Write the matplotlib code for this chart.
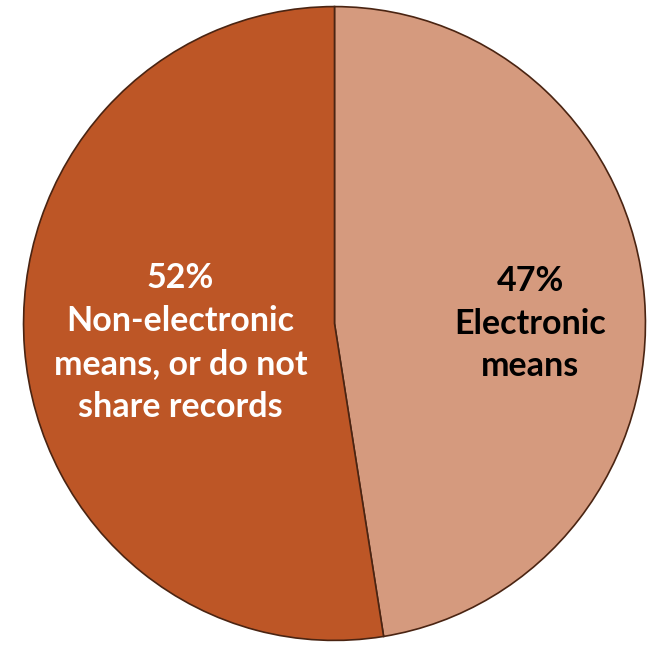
import matplotlib.pyplot as plt

# Data
labels = ['Electronic\nmeans', 'Non-electronic\nmeans, or do not\nshare records']
shares = [47, 52]
colors = ['#D59A7E', '#BD5626']
text_colors = ['black', 'white']

plt.rcParams['font.family'] = ['Lato', 'DejaVu Sans']

fig = plt.figure(figsize=(6.52, 6.47), dpi=100)
ax = fig.add_axes([22 / 652, 5 / 647, 625 / 652, 637 / 647])

wedges, _ = ax.pie(shares, colors=colors, startangle=90, counterclock=False,
                   wedgeprops=dict(edgecolor='#4a2412', linewidth=1.2))

# label positions inside each slice
label_pos = [(0.63, 0.0), (-0.495, -0.06)]
for lab, val, (x, y), tc in zip(labels, shares, label_pos, text_colors):
    ax.text(x, y, f'{val}%\n{lab}', ha='center', va='center', color=tc,
            fontsize=24.5, fontweight='bold', linespacing=1.42)

ax.set_aspect('auto')
ax.set_xlim(-1.005, 1.005)
ax.set_ylim(-1.005, 1.005)
ax.axis('off')

fig.savefig('out.png', dpi=100)
